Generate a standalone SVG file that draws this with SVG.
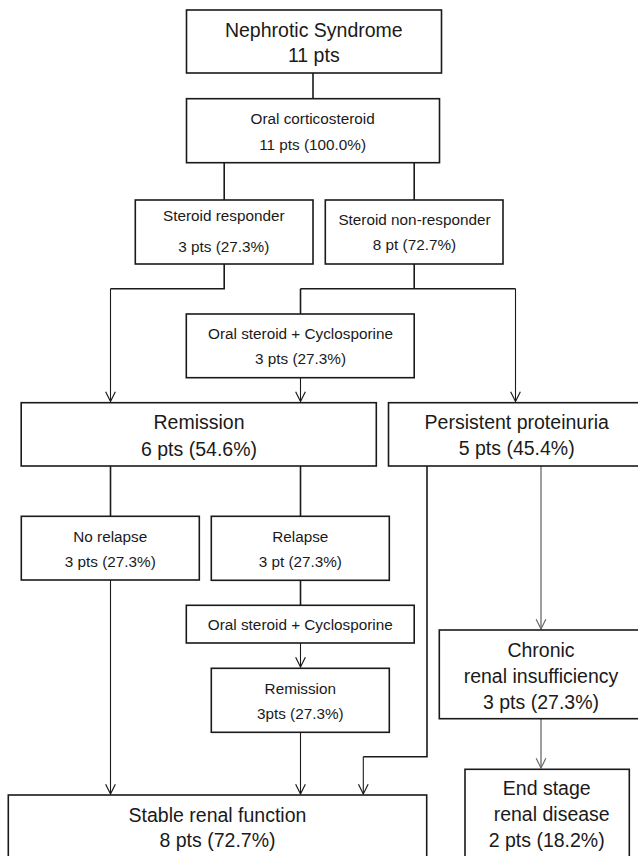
<svg xmlns="http://www.w3.org/2000/svg" width="638" height="856" viewBox="0 0 638 856">
<style>
  .box{fill:#fff;stroke:#1a1a1a;stroke-width:1.6}
  .t{font-family:"Liberation Sans",Arial,sans-serif;fill:#1a1a1a;text-anchor:middle}
  .big{font-size:19.5px}
  .sm{font-size:15.3px}
  .thick{fill:none;stroke:#1a1a1a;stroke-width:1.6}
  .thin{fill:none;stroke:#1a1a1a;stroke-width:1.1}
  .grey{fill:none;stroke:#6a6a6a;stroke-width:1.3}
</style>
<defs>
  <marker id="arr" markerUnits="userSpaceOnUse" markerWidth="14" markerHeight="14" viewBox="-11 -6 13 12" refX="0" refY="0" orient="auto" overflow="visible">
    <path d="M-9,-4.5 L0,0 L-9,4.5" fill="none" stroke="#1a1a1a" stroke-width="1.1"/>
  </marker>
  <marker id="arrg" markerUnits="userSpaceOnUse" markerWidth="14" markerHeight="14" viewBox="-11 -6 13 12" refX="0" refY="0" orient="auto" overflow="visible">
    <path d="M-9,-4.5 L0,0 L-9,4.5" fill="none" stroke="#6a6a6a" stroke-width="1.1"/>
  </marker>
</defs>
<rect width="638" height="856" fill="#fff"/>

<g id="connectors">
  <path class="thick" d="M313,73 V98.7"/>
  <path class="thick" d="M224.2,162.7 V200"/>
  <path class="thick" d="M414.2,162.7 V200"/>
  <path class="thick" d="M224.2,264 V288.7 H110.5"/>
  <path class="thin" d="M110.5,288.7 V401.5" marker-end="url(#arr)"/>
  <path class="thick" d="M414.2,264 V288.7"/>
  <path class="thick" d="M300.5,288.7 H515.5"/>
  <path class="thick" d="M300.5,288.7 V314"/>
  <path class="thin" d="M515.5,288.7 V401.5" marker-end="url(#arr)"/>
  <path class="thin" d="M300.5,377.7 V401.5" marker-end="url(#arr)"/>
  <path class="thick" d="M110.5,466 V516.3"/>
  <path class="thick" d="M300.5,466 V516.3"/>
  <path class="thin" d="M110.5,580 V794" marker-end="url(#arr)"/>
  <path class="thick" d="M300.5,580.3 V605.3"/>
  <path class="thin" d="M300.5,643 V667" marker-end="url(#arr)"/>
  <path class="thin" d="M300.5,732.3 V794" marker-end="url(#arr)"/>
  <path class="thick" d="M427,466 V756.7 H363.3"/>
  <path class="thin" d="M363.3,756.7 V794" marker-end="url(#arr)"/>
  <path class="grey" d="M541,466 V629" marker-end="url(#arrg)"/>
  <path class="grey" d="M541,718.7 V768" marker-end="url(#arrg)"/>
</g>

<g id="nephrotic">
  <rect class="box" x="186.5" y="10" width="255" height="63"/>
  <text class="t big" x="313.8" y="37">Nephrotic Syndrome</text>
  <text class="t big" x="313.8" y="62">11 pts</text>
</g>
<g id="oral-corticosteroid">
  <rect class="box" x="186.5" y="98.7" width="253" height="64"/>
  <text class="t sm" x="312.6" y="124">Oral corticosteroid</text>
  <text class="t sm" x="312.6" y="149.5">11 pts (100.0%)</text>
</g>
<g id="steroid-responder">
  <rect class="box" x="135.3" y="200" width="177.7" height="64"/>
  <text class="t sm" x="223.8" y="220.8">Steroid responder</text>
  <text class="t sm" x="223.8" y="252.2">3 pts (27.3%)</text>
</g>
<g id="steroid-non-responder">
  <rect class="box" x="325.3" y="200" width="177.7" height="64"/>
  <text class="t sm" x="414.5" y="224.8">Steroid non-responder</text>
  <text class="t sm" x="414.5" y="249.8">8 pt (72.7%)</text>
</g>
<g id="oral-steroid-cyclosporine-1">
  <rect class="box" x="186.3" y="314" width="227.9" height="63.7"/>
  <text class="t sm" x="300.5" y="338.8">Oral steroid + Cyclosporine</text>
  <text class="t sm" x="300.5" y="363.8">3 pts (27.3%)</text>
</g>
<g id="remission">
  <rect class="box" x="21.2" y="402.7" width="355.1" height="63.3"/>
  <text class="t big" x="199" y="429.3">Remission</text>
  <text class="t big" x="199" y="456">6 pts (54.6%)</text>
</g>
<g id="persistent-proteinuria">
  <rect class="box" x="388.5" y="402.7" width="260" height="63.3"/>
  <text class="t big" x="516.7" y="428.7">Persistent proteinuria</text>
  <text class="t big" x="516.7" y="454.7">5 pts (45.4%)</text>
</g>
<g id="no-relapse">
  <rect class="box" x="21.3" y="516.3" width="178" height="63.7"/>
  <text class="t sm" x="110.3" y="541.5">No relapse</text>
  <text class="t sm" x="110.3" y="567.2">3 pts (27.3%)</text>
</g>
<g id="relapse">
  <rect class="box" x="211.3" y="516.3" width="178" height="64"/>
  <text class="t sm" x="300.3" y="541.5">Relapse</text>
  <text class="t sm" x="300.3" y="567.2">3 pt (27.3%)</text>
</g>
<g id="oral-steroid-cyclosporine-2">
  <rect class="box" x="186.3" y="605.3" width="227.9" height="37.7"/>
  <text class="t sm" x="300.3" y="629.5">Oral steroid + Cyclosporine</text>
</g>
<g id="remission-2">
  <rect class="box" x="211.3" y="668.3" width="178" height="64"/>
  <text class="t sm" x="300.3" y="693.8">Remission</text>
  <text class="t sm" x="300.3" y="718.8">3pts (27.3%)</text>
</g>
<g id="chronic-renal-insufficiency">
  <rect class="box" x="439.3" y="630" width="210" height="88.7"/>
  <text class="t big" x="541" y="657">Chronic</text>
  <text class="t big" x="541" y="683.2">renal insufficiency</text>
  <text class="t big" x="541" y="708.5">3 pts (27.3%)</text>
</g>
<g id="end-stage-renal-disease">
  <rect class="box" x="465" y="769.3" width="164.3" height="100"/>
  <text class="t big" x="546.7" y="795.3">End stage</text>
  <text class="t big" x="551.7" y="821">renal disease</text>
  <text class="t big" x="546.7" y="846.5">2 pts (18.2%)</text>
</g>
<g id="stable-renal-function">
  <rect class="box" x="8.3" y="795" width="418.4" height="80"/>
  <text class="t big" x="217.5" y="822">Stable renal function</text>
  <text class="t big" x="217.5" y="846.5">8 pts (72.7%)</text>
</g>
</svg>
